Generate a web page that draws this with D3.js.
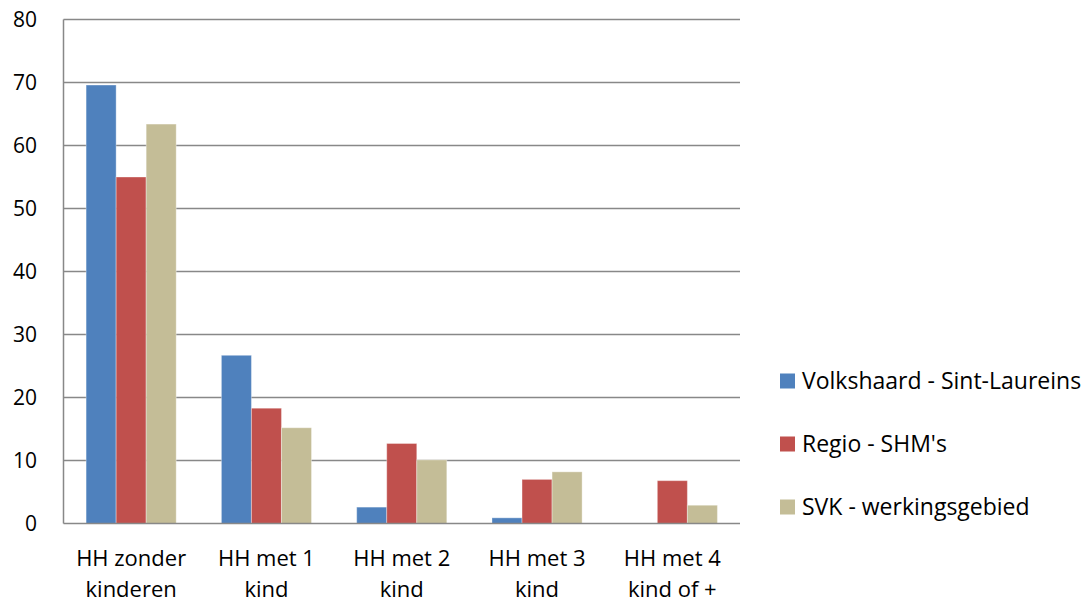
<!DOCTYPE html>
<html>
<head>
<meta charset="utf-8">
<script src="https://cdn.jsdelivr.net/npm/d3@7"></script>
<style>
  body { margin: 0; background: #fff; }
  text { font-family: "Open Sans", Lato, sans-serif; fill: #000; }
</style>
</head>
<body>
<div id="chart"></div>
<script>
var categories = [["HH zonder", "kinderen"], ["HH met 1", "kind"], ["HH met 2", "kind"], ["HH met 3", "kind"], ["HH met 4", "kind of +"]]
var seriesNames = ["Volkshaard - Sint-Laureins", "Regio - SHM's", "SVK - werkingsgebied"]
var volkshaard = [69.6, 26.7, 2.6, 0.9, 0]
var regio = [55.0, 18.3, 12.7, 7.0, 6.8]
var svk = [63.4, 15.2, 10.1, 8.2, 2.9]
var yTicks = [0, 10, 20, 30, 40, 50, 60, 70, 80]
var colors = ["#4F81BD", "#C0504D", "#C4BD97"]

var allSeries = [volkshaard, regio, svk]

var svg = d3.select("#chart")
    .append("svg")
    .attr("width", 1087)
    .attr("height", 603)

var plotLeft = 63.5, plotRight = 740, plotTop = 19.5, plotBottom = 523.5

var x = d3.scaleBand()
    .domain(d3.range(categories.length))
    .range([plotLeft, plotRight])
    .paddingInner(0.334)
    .paddingOuter(0.167)

var xs = d3.scaleBand()
    .domain(d3.range(seriesNames.length))
    .range([0, x.bandwidth()])

var y = d3.scaleLinear()
    .domain([0, 80])
    .range([plotBottom, plotTop])

// gridlines
svg.append("g").attr("class", "grid")
    .selectAll("line")
    .data(yTicks.slice(1))
    .enter()
    .append("line")
    .attr("x1", plotLeft)
    .attr("x2", plotRight)
    .attr("y1", function (d) { return y(d) })
    .attr("y2", function (d) { return y(d) })
    .style("stroke", "#888888")
    .style("stroke-width", 1.5)

// bars
var groups = svg.append("g").attr("class", "bars")
    .selectAll("g")
    .data(allSeries)
    .enter()
    .append("g")
    .style("fill", function (d, i) { return colors[i] })

groups.each(function (values, si) {
    d3.select(this).selectAll("rect")
        .data(values)
        .enter()
        .append("rect")
        .attr("x", function (d, ci) { return x(ci) + xs(si) })
        .attr("width", xs.bandwidth())
        .attr("y", function (d) { return y(d) })
        .attr("height", function (d) { return plotBottom - y(d) })
        .style("stroke", "rgba(255,255,255,0.35)")
        .style("stroke-width", 1)
})

// axis lines
svg.append("line")
    .attr("x1", plotLeft).attr("x2", plotLeft)
    .attr("y1", plotTop).attr("y2", plotBottom)
    .style("stroke", "#888888").style("stroke-width", 1.5)
svg.append("line")
    .attr("x1", plotLeft).attr("x2", plotRight)
    .attr("y1", plotBottom).attr("y2", plotBottom)
    .style("stroke", "#888888").style("stroke-width", 1.5)

// y labels
svg.append("g").attr("class", "ylabels")
    .selectAll("text")
    .data(yTicks)
    .enter()
    .append("text")
    .attr("x", 37)
    .attr("y", function (d) { return y(d) })
    .attr("dy", "0.36em")
    .attr("text-anchor", "end")
    .style("font-size", "21px")
    .text(function (d) { return d })

// x labels
var xl = svg.append("g").attr("class", "xlabels")
    .selectAll("text")
    .data(categories)
    .enter()
    .append("text")
    .attr("text-anchor", "middle")
    .style("font-size", "22px")
xl.each(function (lines, i) {
    d3.select(this).selectAll("tspan")
        .data(lines)
        .enter()
        .append("tspan")
        .attr("x", x(i) + x.bandwidth() / 2)
        .attr("y", function (d, j) { return 566 + j * 31 })
        .text(function (d) { return d })
})

// legend
var legend = svg.append("g").attr("class", "legend")
    .selectAll("g")
    .data(seriesNames)
    .enter()
    .append("g")
    .attr("transform", function (d, i) { return "translate(780," + (381 + i * 63) + ")" })
legend.append("rect")
    .attr("x", 0).attr("y", -7.5)
    .attr("width", 15).attr("height", 15)
    .style("fill", function (d, i) { return colors[i] })
legend.append("text")
    .attr("x", 22)
    .attr("dy", "0.36em")
    .style("font-size", "23px")
    .text(function (d) { return d })
</script>
</body>
</html>
